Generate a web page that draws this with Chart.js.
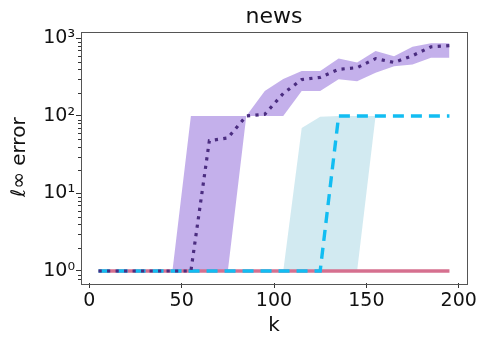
<!DOCTYPE html>
<html>
<head>
<meta charset="utf-8">
<script src="https://cdn.jsdelivr.net/npm/chart.js@4/dist/chart.umd.min.js"></script>
<style>
  html, body { margin: 0; padding: 0; background: #fff; }
  #wrap { width: 481px; height: 338px; position: relative; }
</style>
</head>
<body>
<div id="wrap"><canvas id="chart"></canvas></div>
<script>
// k values (x axis)
const kValues = [5, 15, 25, 35, 45, 55, 65, 75, 85, 95, 105, 115, 125, 135, 145, 155, 165, 175, 185, 195];

// purple series: mean and shaded band
const purpleMean  = [1, 1, 1, 1, 1, 1, 48, 52, 100, 105, 195, 295, 315, 400, 420, 550, 490, 600, 780, 810];
const purpleUpper = [1, 1, 1, 1, 1, 100, 100, 100, 100, 210, 300, 380, 380, 550, 490, 690, 590, 780, 870, 870];
const purpleLower = [1, 1, 1, 1, 1, 1, 1, 1, 100, 100, 100, 210, 210, 297, 280, 360, 437, 460, 565, 565];

// cyan series: mean and shaded band
const cyanMean  = [1, 1, 1, 1, 1, 1, 1, 1, 1, 1, 1, 1, 1, 100, 100, 100, 100, 100, 100, 100];
const cyanUpper = [1, 1, 1, 1, 1, 1, 1, 1, 1, 1, 1, 70, 98, 100, 100, 100, 100, 100, 100, 100];
const cyanLower = [1, 1, 1, 1, 1, 1, 1, 1, 1, 1, 1, 1, 1, 1, 1, 100, 100, 100, 100, 100];

// pink series (flat)
const pinkMean = [1, 1, 1, 1, 1, 1, 1, 1, 1, 1, 1, 1, 1, 1, 1, 1, 1, 1, 1, 1];

// axis ticks
const xTicks = [0, 50, 100, 150, 200];
const yMajorTicks = [1, 10, 100, 1000];
const yMinorTicks = [0.8, 0.9, 2, 3, 4, 5, 6, 7, 8, 9, 20, 30, 40, 50, 60, 70, 80, 90, 200, 300, 400, 500, 600, 700, 800, 900];
const supers = { 0: '⁰', 1: '¹', 2: '²', 3: '³' };

const pts = arr => kValues.map((k, i) => ({ x: k, y: arr[i] }));
const font = 'DejaVu Sans';

const bandStyle = { borderWidth: 0, pointRadius: 0, tension: 0 };

// frame, minor ticks, and title centred over the plot
const framePlugin = {
  id: 'frame',
  afterLayout(chart) {
    const ca = chart.chartArea;
    if (chart.titleBlock) {
      chart.titleBlock.left = ca.left;
      chart.titleBlock.right = ca.right;
    }
  },
  afterDraw(chart) {
    const { ctx, chartArea: ca } = chart;
    const y = chart.scales.y;
    ctx.save();
    ctx.strokeStyle = '#333';
    ctx.lineWidth = 1;
    ctx.beginPath();
    yMinorTicks.forEach(v => {
      const py = Math.round(y.getPixelForValue(v)) + 0.5;
      ctx.moveTo(ca.left - 3, py);
      ctx.lineTo(ca.left, py);
    });
    ctx.stroke();
    ctx.strokeStyle = '#555';
    ctx.strokeRect(Math.round(ca.left) + 0.5, Math.round(ca.top) + 0.5,
      Math.round(ca.right - ca.left), Math.round(ca.bottom - ca.top));
    ctx.restore();
  }
};

new Chart(document.getElementById('chart'), {
  type: 'line',
  data: {
    datasets: [
      { label: 'purple upper', data: pts(purpleUpper), fill: '+1',
        backgroundColor: 'rgba(147, 112, 219, 0.55)', order: 5, ...bandStyle },
      { label: 'purple lower', data: pts(purpleLower), fill: false, order: 5, ...bandStyle },
      { label: 'cyan upper', data: pts(cyanUpper), fill: '+1',
        backgroundColor: 'rgba(173, 216, 230, 0.55)', order: 5, ...bandStyle },
      { label: 'cyan lower', data: pts(cyanLower), fill: false, order: 5, ...bandStyle },
      { label: 'pink', data: pts(pinkMean), borderColor: '#d6708f', borderWidth: 3.4,
        pointRadius: 0, fill: false, order: 3 },
      { label: 'cyan', data: pts(cyanMean), borderColor: '#12bdf2', borderWidth: 3.4,
        borderDash: [11, 7], pointRadius: 0, fill: false, order: 2 },
      { label: 'purple', data: pts(purpleMean), borderColor: '#4b2d80', borderWidth: 3.2,
        borderDash: [3.2, 5.3], pointRadius: 0, fill: false, order: 1 }
    ]
  },
  options: {
    responsive: true,
    maintainAspectRatio: false,
    animation: false,
    layout: { padding: { left: 0, right: 14, top: 0, bottom: 0 } },
    plugins: {
      legend: { display: false },
      tooltip: { enabled: false },
      title: {
        display: true,
        text: 'news',
        color: '#111',
        font: { family: font, size: 22, weight: 'normal', lineHeight: 1 },
        padding: { top: 6, bottom: 3.5 }
      }
    },
    scales: {
      x: {
        type: 'linear',
        min: -4.5,
        max: 204.5,
        afterBuildTicks: scale => { scale.ticks = xTicks.map(v => ({ value: v })); },
        afterFit: scale => { scale.height = 55; },
        grid: { drawOnChartArea: false, tickLength: 5, tickColor: '#333' },
        border: { display: false },
        ticks: { color: '#111', font: { family: font, size: 19 }, padding: 2, maxRotation: 0 },
        title: { display: true, text: 'k', color: '#111',
          font: { family: font, size: 20 }, padding: { top: 0, bottom: 0 } }
      },
      y: {
        type: 'logarithmic',
        min: 0.7,
        max: 1230,
        afterBuildTicks: scale => { scale.ticks = yMajorTicks.map(v => ({ value: v })); },
        afterFit: scale => { scale.width = 81; },
        grid: { drawOnChartArea: false, tickLength: 5, tickColor: '#333' },
        border: { display: false },
        ticks: {
          color: '#111',
          font: { family: font, size: 19 },
          padding: 1,
          callback: v => '10' + supers[Math.round(Math.log10(v))]
        },
        title: { display: true, text: 'ℓ∞ error', color: '#111',
          font: { family: font, size: 20 }, padding: { top: 8, bottom: 0 } }
      }
    }
  },
  plugins: [framePlugin]
});
</script>
</body>
</html>
